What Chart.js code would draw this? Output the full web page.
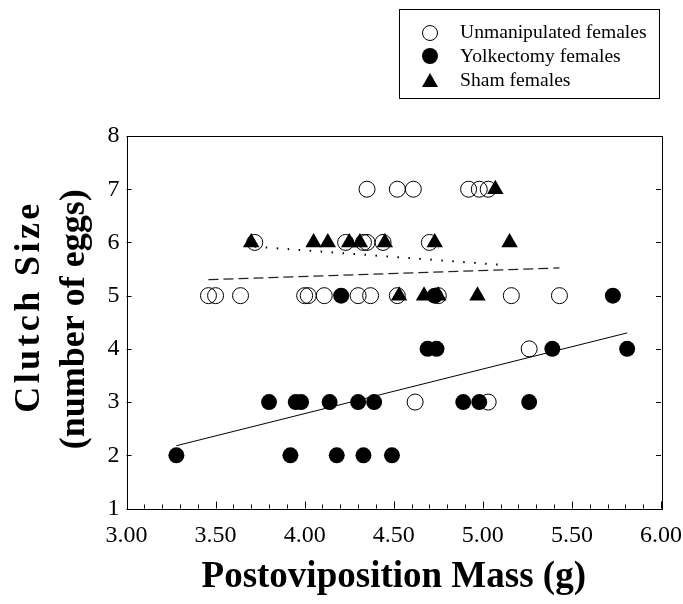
<!DOCTYPE html>
<html><head><meta charset="utf-8">
<script src="https://cdn.jsdelivr.net/npm/chart.js@4/dist/chart.umd.min.js"></script>
<style>
html,body{margin:0;padding:0;background:#fff;}
#wrap{position:relative;width:683px;height:604px;}
#legend{position:absolute;left:399px;top:9px;width:261px;height:90px;border:1px solid #000;box-sizing:border-box;font-family:'Liberation Serif',serif;font-size:19.6px;color:#000;}
.item{position:absolute;left:60px;height:22px;line-height:22px;white-space:nowrap;}
.mk{position:absolute;box-sizing:border-box;}
.open{width:16px;height:16px;border:1px solid #000;border-radius:50%;left:22px;}
.fill{width:16px;height:16px;background:#000;border-radius:50%;left:22px;}
.tri{width:0;height:0;border-left:8px solid transparent;border-right:8px solid transparent;border-bottom:14px solid #000;left:22px;}
</style></head>
<body>
<div id="wrap">
<canvas id="c" width="683" height="604"></canvas>
<div id="legend">
  <div class="mk open" style="top:15px"></div><div class="item" style="top:11px">Unmanipulated females</div>
  <div class="mk fill" style="top:38px"></div><div class="item" style="top:35px">Yolkectomy females</div>
  <div class="mk tri" style="top:63px"></div><div class="item" style="top:59px">Sham females</div>
</div>
</div>
<script>
// ---- data ----
const unmanipX = [4.35, 4.52, 4.61, 4.92, 4.98, 5.03,
                  3.72, 4.23, 4.33, 4.35, 4.44, 4.70,
                  3.46, 3.50, 3.64, 4.00, 4.02, 4.11, 4.30, 4.37, 4.52, 4.75, 5.16, 5.43,
                  5.26,
                  4.62, 5.03];
const unmanipY = [7,7,7,7,7,7, 6,6,6,6,6,6, 5,5,5,5,5,5,5,5,5,5,5,5, 4, 3,3];

const yolkX = [3.28, 3.92, 4.18, 4.33, 4.49,
               3.80, 3.95, 3.98, 4.14, 4.30, 4.39, 4.89, 4.98, 5.26,
               4.69, 4.74, 5.39, 5.81,
               4.205, 4.73, 5.73];
const yolkY = [2,2,2,2,2, 3,3,3,3,3,3,3,3,3, 4,4,4,4, 5,5,5];

const shamX = [3.70, 4.05, 4.13, 4.25, 4.31, 4.45, 4.73, 5.15, 5.07, 4.53, 4.67, 4.75, 4.97];
const shamY = [6,6,6,6,6,6,6,6, 7, 5,5,5,5];

const unmanipFitX = [3.46, 5.43], unmanipFitY = [5.30, 5.52];
const yolkFitX = [3.28, 5.81],    yolkFitY = [2.18, 4.30];
const shamFitX = [3.72, 5.10],    shamFitY = [5.92, 5.58];

const xTicks = [3.0, 3.5, 4.0, 4.5, 5.0, 5.5, 6.0];
const yTicks = [1, 2, 3, 4, 5, 6, 7, 8];
const xTitle = 'Postoviposition Mass (g)';
const yTitleLines = ['Clutch Size', '(number of eggs)'];

const pts = (xs, ys) => xs.map((x, i) => ({x, y: ys[i]}));
const SERIF = "'Liberation Serif', 'DejaVu Serif', serif";

const frame = {
  id: 'frame',
  beforeDatasetsDraw(chart) {
    const {ctx, chartArea: {left, right, top, bottom}, scales: {x, y}} = chart;
    ctx.save();
    ctx.strokeStyle = '#000';
    ctx.lineWidth = 1;
    ctx.strokeRect(Math.round(left) + 0.5, Math.round(top) + 0.5, Math.round(right - left), Math.round(bottom - top));
    ctx.beginPath();
    for (let v = Math.round(x.min * 10); v <= Math.round(x.max * 10); v++) {
      const px = Math.round(x.getPixelForValue(v / 10)) + 0.5;
      const len = v % 5 === 0 ? 7 : 4;
      ctx.moveTo(px, bottom); ctx.lineTo(px, bottom - len);
    }
    yTicks.forEach(t => {
      const py = Math.round(y.getPixelForValue(t)) + 0.5;
      ctx.moveTo(left, py); ctx.lineTo(left + 5, py);
      ctx.moveTo(right, py); ctx.lineTo(right - 5, py);
    });
    ctx.stroke();
    ctx.restore();
  }
};

// y-axis title: two rotated lines, the first one letter-spaced as in the original figure
const yTitlePlugin = {
  id: 'yTitle',
  afterDraw(chart) {
    const {ctx, chartArea: {top, bottom}} = chart;
    const cy = (top + bottom) / 2;
    ctx.save();
    ctx.fillStyle = '#000';
    ctx.font = 'bold 36px ' + SERIF;
    ctx.textAlign = 'center';
    ctx.textBaseline = 'alphabetic';
    ctx.save();
    ctx.translate(39, cy - 14);
    ctx.rotate(-Math.PI / 2);
    ctx.letterSpacing = '3.4px';
    ctx.fillText(yTitleLines[0], 1.7, 0);
    ctx.restore();
    ctx.save();
    ctx.translate(84, cy - 3);
    ctx.rotate(-Math.PI / 2);
    ctx.fillText(yTitleLines[1], 0, 0);
    ctx.restore();
    ctx.restore();
  }
};

new Chart(document.getElementById('c'), {
  type: 'scatter',
  data: {
    datasets: [
      {label: 'Sham females', data: pts(shamX, shamY), pointStyle: 'triangle', pointRadius: 9.5,
       backgroundColor: '#000', borderColor: '#000', borderWidth: 0, order: 0},
      {label: 'Yolkectomy females', data: pts(yolkX, yolkY), pointStyle: 'circle', pointRadius: 8,
       backgroundColor: '#000', borderColor: '#000', borderWidth: 0, order: 1},
      {label: 'Unmanipulated females', data: pts(unmanipX, unmanipY), pointStyle: 'circle', pointRadius: 8,
       backgroundColor: 'rgba(0,0,0,0)', borderColor: '#000', borderWidth: 1, order: 2},
      {label: 'Unmanipulated fit', data: pts(unmanipFitX, unmanipFitY), showLine: true, pointRadius: 0,
       borderColor: '#222', borderWidth: 1.2, borderDash: [10, 5], order: 3},
      {label: 'Yolkectomy fit', data: pts(yolkFitX, yolkFitY), showLine: true, pointRadius: 0,
       borderColor: '#000', borderWidth: 1, order: 4},
      {label: 'Sham fit', data: pts(shamFitX, shamFitY), showLine: true, pointRadius: 0,
       borderColor: '#000', borderWidth: 2, borderDash: [1.5, 9.5], order: 5}
    ]
  },
  options: {
    responsive: false, animation: false, devicePixelRatio: 1,
    layout: {padding: {left: 0, right: 22, top: 136, bottom: 0}},
    plugins: {legend: {display: false}, tooltip: {enabled: false}},
    scales: {
      x: {
        type: 'linear', min: 3, max: 6,
        afterBuildTicks: s => { s.ticks = xTicks.map(v => ({value: v})); },
        ticks: {callback: v => Number(v).toFixed(2), color: '#000', padding: 13, maxRotation: 0, autoSkip: false,
                font: {family: SERIF, size: 24}},
        grid: {display: false, drawTicks: false},
        border: {display: false},
        title: {display: true, text: xTitle, color: '#000',
                font: {family: SERIF, size: 37, weight: 'bold', lineHeight: 1.2}, padding: {top: 0, bottom: 4}},
        afterFit: s => { s.height = 95.5; s.paddingLeft = 0; s.paddingRight = 0; }
      },
      y: {
        type: 'linear', min: 1, max: 8,
        afterBuildTicks: s => { s.ticks = yTicks.map(v => ({value: v})); },
        ticks: {color: '#000', padding: 7, font: {family: SERIF, size: 24}},
        grid: {display: false, drawTicks: false},
        border: {display: false},
        title: {display: false, text: yTitleLines},
        afterFit: s => { s.width = 126.5; }
      }
    }
  },
  plugins: [frame, yTitlePlugin]
});
</script>
</body></html>
